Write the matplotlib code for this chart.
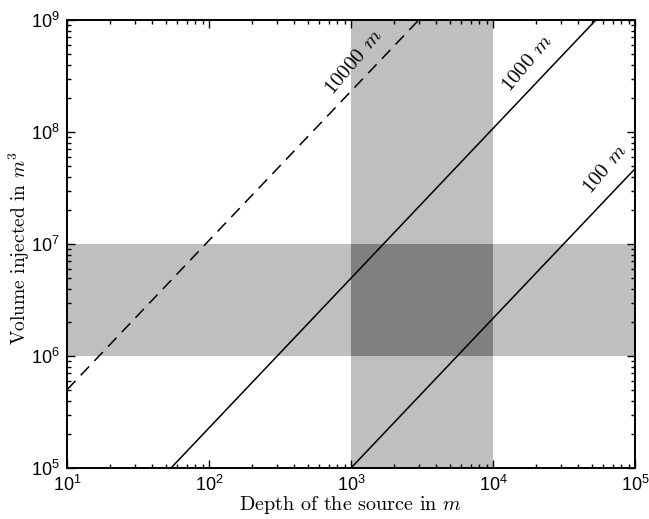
import matplotlib
matplotlib.use("Agg")
import matplotlib.pyplot as plt
from matplotlib.ticker import LogLocator, NullFormatter

plt.rcParams['font.family'] = ['Liberation Sans', 'DejaVu Sans']
plt.rcParams['mathtext.fontset'] = 'cm'
plt.rcParams['axes.formatter.use_mathtext'] = True

# ---- data ----
x_limits = [1e1, 1e5]
y_limits = [1e5, 1e9]
depth_band = [1e3, 1e4]          # vertical shaded band (depth of source)
volume_band = [1e6, 1e7]         # horizontal shaded band (volume)

line_labels = ['100 $m$', '1000 $m$', '10000 $m$']
line_depths = [[1e3, 1e5], [54, 5.3e4], [10, 3.0e3]]
line_volumes = [[1e5, 4.7e7], [1e5, 1e9], [5.0e5, 1e9]]
line_styles = ['-', '-', (0, (8, 5))]
label_pos = [(6.2e4, 4.6e7), (1.76e4, 4.1e8), (1.05e3, 4.2e8)]

fig = plt.figure(figsize=(6.49, 5.19), dpi=100)
W, H = 649, 519
ax = fig.add_axes([67/W, 1-468/H, (635-67)/W, (468-20)/H])
ax.set_xscale('log')
ax.set_yscale('log')
ax.set_xlim(x_limits)
ax.set_ylim(y_limits)

ax.axvspan(depth_band[0], depth_band[1], color='#bfbfbf', lw=0, zorder=0)
ax.axhspan(volume_band[0], volume_band[1], color='#bfbfbf', lw=0, zorder=0)
ax.fill_between(depth_band, volume_band[0], volume_band[1], color='#808080', lw=0, zorder=0.5)

for d, v, ls in zip(line_depths, line_volumes, line_styles):
    ax.plot(d, v, color='black', lw=1.1, linestyle=ls, zorder=2)

for lab, (px, py) in zip(line_labels, label_pos):
    ax.text(px, py, lab, rotation=50, ha='center', va='center',
            fontsize=15, family='cmr10', zorder=3)

ax.set_xlabel('Depth of the source in $m$', family='cmr10', fontsize=14.5)
ax.set_ylabel('Volume injected in $m^3$', family='cmr10', fontsize=14)
ax.xaxis.set_label_coords(0.5, (468 - 494) / 448)
ax.yaxis.set_label_coords((32 - 67) / 568, 0.49)

for axis in (ax.xaxis, ax.yaxis):
    axis.set_major_locator(LogLocator(base=10, numticks=10))
    axis.set_minor_locator(LogLocator(base=10, subs=range(2, 10), numticks=10))
    axis.set_minor_formatter(NullFormatter())
ax.tick_params(which='both', direction='in', top=True, right=True, labelsize=13, width=1)
ax.tick_params(which='major', length=6, pad=5)
ax.tick_params(which='minor', length=3)
for s in ax.spines.values():
    s.set_linewidth(1.4)

fig.savefig('out.png', dpi=100)
